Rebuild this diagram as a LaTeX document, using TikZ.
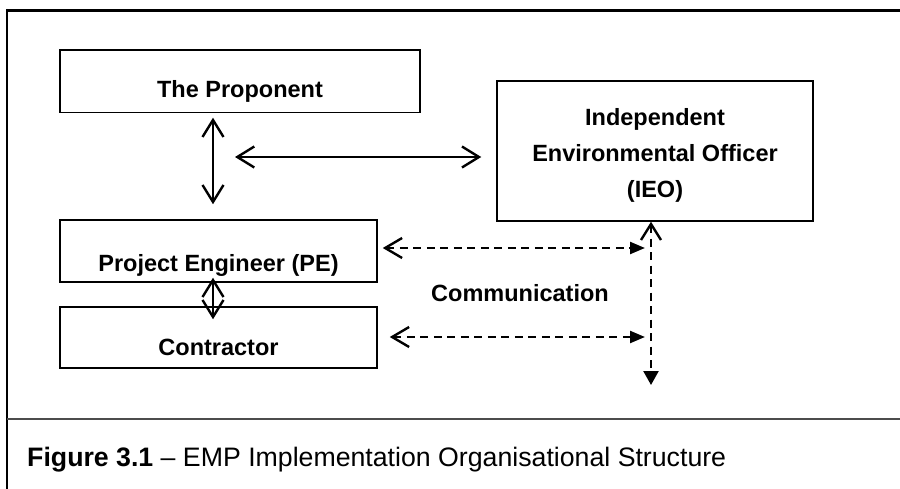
\documentclass[tikz,border=0pt]{standalone}
\usepackage{fontspec}
\setmainfont{Liberation Sans}
\usetikzlibrary{arrows.meta}
\begin{document}
\begin{tikzpicture}[x=1pt,y=-1pt,
  box/.style={draw=black, line width=1.5pt, rectangle, inner sep=0pt},
  lbl/.style={font=\fontsize{23.5}{36}\selectfont\bfseries, align=center, inner sep=0pt},
  solarr/.style={line width=2.4pt, {Straight Barb[length=17pt,width=21pt]}-{Straight Barb[length=17pt,width=21pt]}},
  dasharr/.style={line width=2.4pt, dash pattern=on 8pt off 5.5pt, {Straight Barb[length=17pt,width=20pt]}-{Triangle[length=15pt,width=12pt]}},
  dashdown/.style={line width=2.4pt, dash pattern=on 8pt off 5.5pt, {Straight Barb[length=16pt,width=20pt]}-{Triangle[length=14pt,width=15pt]}}
]
\useasboundingbox (0,0) rectangle (900,489);
\fill[white] (0,0) rectangle (900,489);
% frame
\draw[line width=3pt] (7,10.5) -- (900,10.5);
\draw[line width=2.2pt] (7,9) -- (7,489);
\draw[line width=1.6pt, black!70] (7,419) -- (900,419);

% boxes
\node[box, minimum width=360pt, minimum height=62.7pt,
      label={[lbl, yshift=-10pt]center:The Proponent}] (prop) at (240,81.3) {};
\node[box, minimum width=316pt, minimum height=140pt,
      label={[lbl, yshift=-4pt]center:Independent\\Environmental Officer\\(IEO)}] (ieo) at (655,151) {};
\node[box, minimum width=317pt, minimum height=62pt,
      label={[lbl, yshift=-14pt]center:Project Engineer (PE)}] (pe) at (218.5,251) {};
\node[box, minimum width=317pt, minimum height=61pt,
      label={[lbl, yshift=-10pt]center:Contractor}] (con) at (218.5,337.5) {};

\node[lbl] (comm) at (520,293) {Communication};

% free ends
\coordinate (hleft) at (235,157);
\coordinate (peR) at (645,248);
\coordinate (conR) at (645,337);
\coordinate (vbot) at (651,385);

% connectors
\draw[solarr] ([xshift=-27pt,yshift=-4.3pt]prop.south) -- ([xshift=-5.5pt,yshift=15pt]pe.north);
\draw[solarr] (hleft) -- ([xshift=-15pt,yshift=-6pt]ieo.west);
\draw[solarr] ([xshift=-5.5pt,yshift=5pt]pe.south) -- ([xshift=-5.5pt,yshift=-13pt]con.north);
\draw[dasharr] ([xshift=5pt,yshift=3pt]pe.east) -- (peR);
\draw[dasharr] ([xshift=12pt,yshift=0.5pt]con.east) -- (conR);
\draw[dashdown] ([xshift=-4pt]ieo.south) -- (vbot);

% caption
\node[anchor=base west, inner sep=0pt, font=\fontsize{26.7}{30}\selectfont] (cap) at (27,466.5)
  {\textbf{Figure 3.1} – EMP Implementation Organisational Structure};
\end{tikzpicture}
\end{document}
